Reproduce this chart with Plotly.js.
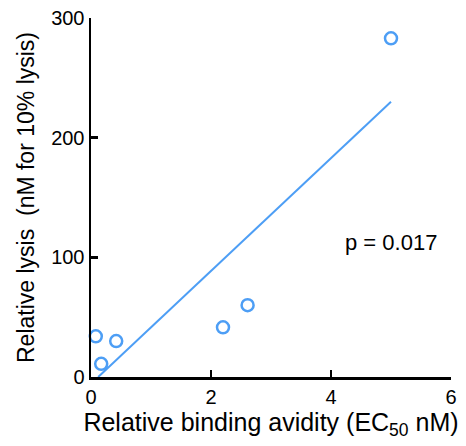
<!DOCTYPE html>
<html>
<head>
<meta charset="utf-8">
<script src="https://cdn.plot.ly/plotly-3.0.1.min.js"></script>
<style>html,body{margin:0;padding:0;background:#fff;}#chart{width:466px;height:446px;}</style>
</head>
<body>
<div id="chart"></div>
<script>
// Data
var avidity = [0.08, 0.17, 0.42, 2.2, 2.61, 5.0];
var lysis = [34, 11, 30, 41.5, 60, 283];
var fitX = [0.12, 5.0];
var fitY = [0, 230];
var xTicks = [0, 2, 4, 6];
var yTicks = [0, 100, 200, 300];
var pText = "p = 0.017";

var blue = "#4d9ef5";
var traces = [
  {x: fitX, y: fitY, mode: "lines", type: "scatter", line: {color: blue, width: 2}, hoverinfo: "skip"},
  {x: avidity, y: lysis, mode: "markers", type: "scatter", cliponaxis: false,
   marker: {symbol: "circle-open", size: 12, color: blue, line: {color: blue, width: 2.5}}}
];
var fam = "Liberation Sans, Arial, sans-serif";
var layout = {
  width: 466, height: 446,
  margin: {l: 91, r: 15, t: 18, b: 69},
  showlegend: false,
  paper_bgcolor: "#fff", plot_bgcolor: "#fff",
  font: {family: fam, color: "#000"},
  xaxis: {
    range: [0, 6], tickvals: xTicks, ticktext: xTicks.map(String),
    showgrid: false, zeroline: false, showline: true, linecolor: "#000", linewidth: 2.5,
    ticks: "inside", ticklen: 7, tickwidth: 2.5, tickcolor: "#000",
    tickfont: {family: fam, size: 20, color: "#000"},
    title: {text: "Relative binding avidity (EC<sub>50</sub> nM)", font: {family: fam, size: 25, color: "#000"}, standoff: 6}
  },
  yaxis: {
    range: [0, 300], tickvals: yTicks, ticktext: yTicks.map(String),
    showgrid: false, zeroline: false, showline: true, linecolor: "#000", linewidth: 2.5,
    ticks: "inside", ticklen: 7, tickwidth: 2.5, tickcolor: "#000",
    tickfont: {family: fam, size: 20, color: "#000"},
    title: {text: "Relative lysis\u00a0\u00a0(nM for 10% lysis)", font: {family: fam, size: 23, color: "#000"}, standoff: 10}
  },
  annotations: [{
    x: 5.0, y: 112, xref: "x", yref: "y", text: pText, showarrow: false,
    font: {family: fam, size: 22, color: "#000"}
  }]
};
Plotly.newPlot("chart", traces, layout, {displayModeBar: false, staticPlot: true});
</script>
</body>
</html>
